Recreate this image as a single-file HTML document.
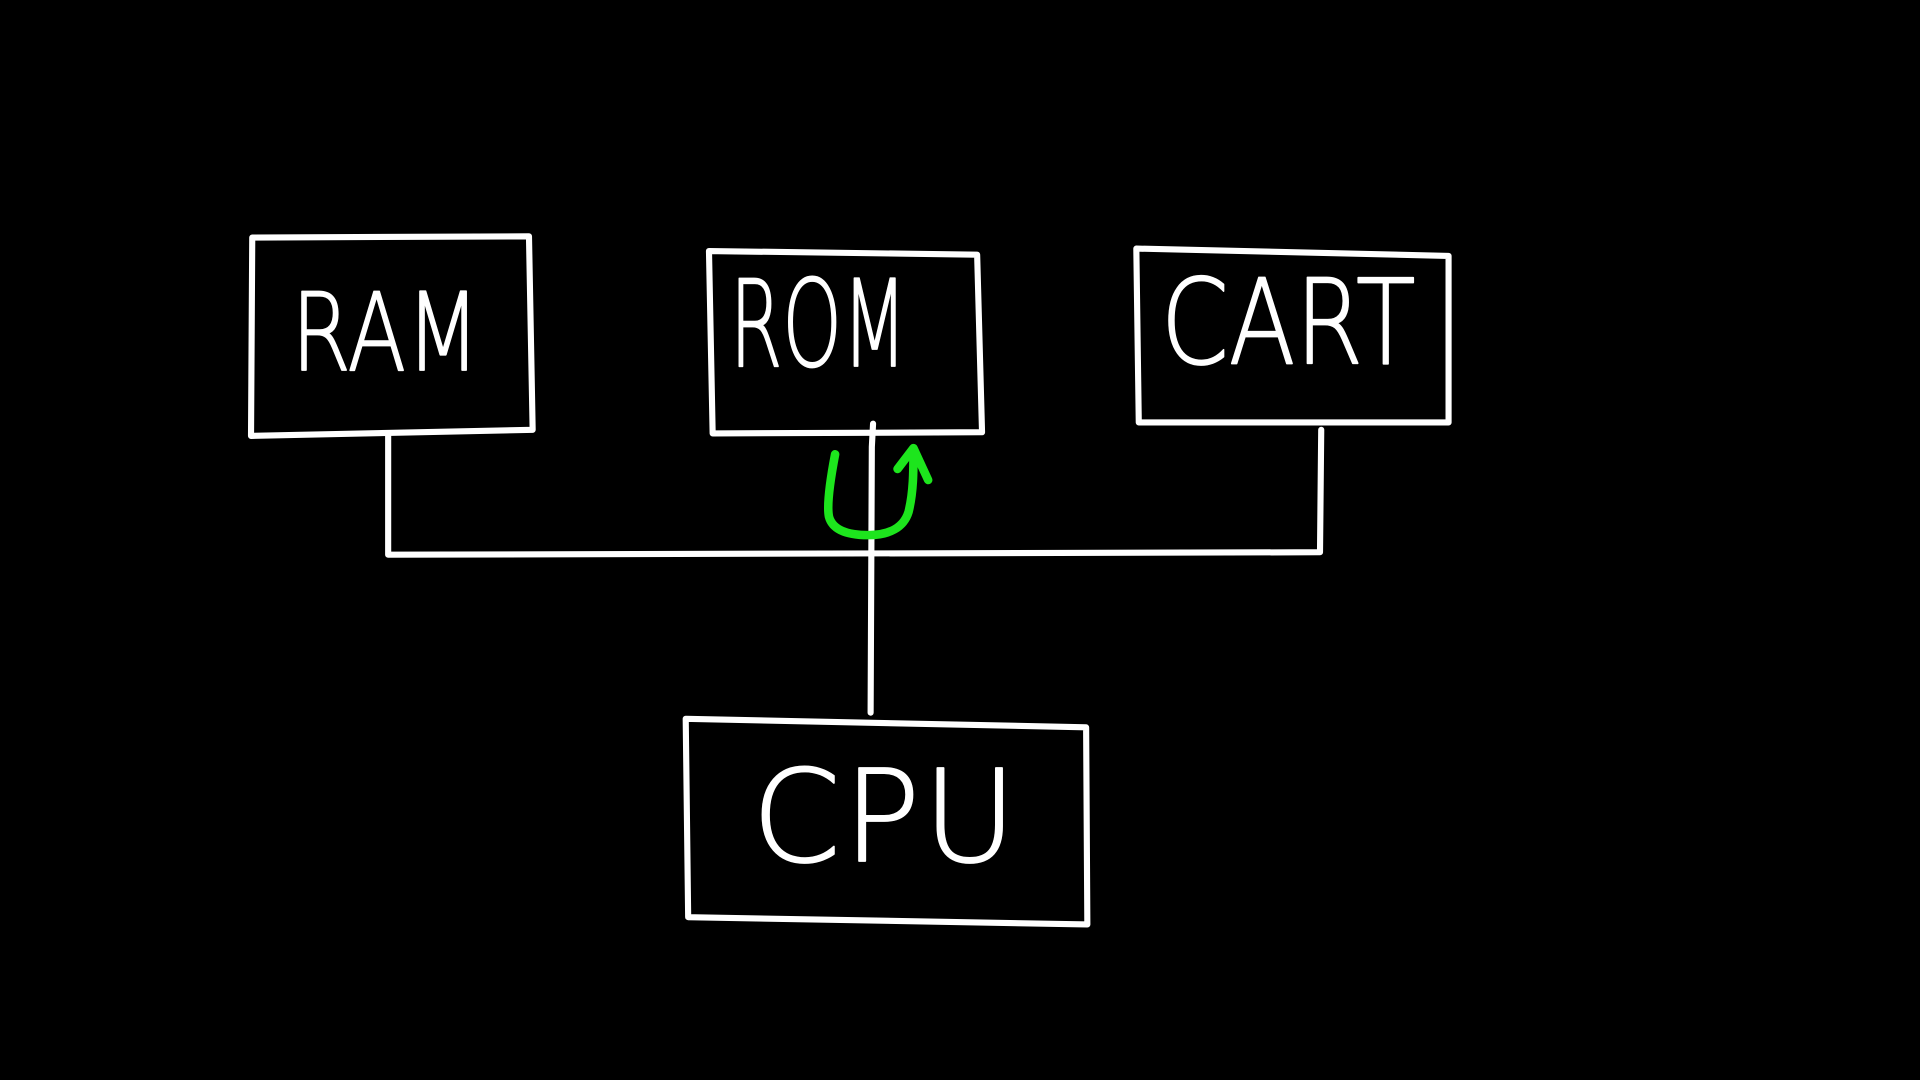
<!DOCTYPE html>
<html>
<head>
<meta charset="utf-8">
<style>
  html, body { margin: 0; padding: 0; background: #000; }
  body { width: 1920px; height: 1080px; overflow: hidden; }
  svg { display: block; }
  text { font-family: "DejaVu Sans", "Liberation Sans", sans-serif; font-weight: 200; fill: #fff; stroke: #fff; stroke-width: 1.4; stroke-linejoin: round; }
</style>
</head>
<body>
<svg width="1920" height="1080" viewBox="0 0 1568 882" xmlns="http://www.w3.org/2000/svg">
  <rect x="0" y="0" width="1568" height="882" fill="#000"/>
  <g fill="none" stroke="#fff" stroke-width="5" stroke-linecap="round" stroke-linejoin="round">
    <!-- RAM box -->
    <path d="M206 194 L432 193 L435 351 L205 356 Z"/>
    <!-- ROM box -->
    <path d="M579 205 L798 208 L802 353 L582 354 Z"/>
    <!-- CART box -->
    <path d="M928 203 L1183 209 L1183 345 L930 345 Z"/>
    <!-- CPU box -->
    <path d="M560 587 L887 594 L888 755 L562 749 Z"/>
    <!-- bus -->
    <path d="M317 356 L317 453 L1078 451 L1079 351"/>
    <path d="M713 346 L712 365 L711 582"/>
  </g>
  <!-- green U-turn arrow -->
  <g fill="none" stroke="#1de51d" stroke-width="7" stroke-linecap="round" stroke-linejoin="round">
    <path d="M682 371 C678 392, 675 412, 677 422 C680 433, 692 437, 709 437 C726 437, 738 431, 742 418 C746 402, 746 385, 746 367"/>
    <path d="M733 383 L746 366 L758 392"/>
  </g>
  <!-- labels -->
  <text x="238" y="302" font-size="88" textLength="154" lengthAdjust="spacingAndGlyphs">RAM</text>
  <text x="596" y="299" font-size="98" textLength="145" lengthAdjust="spacingAndGlyphs">ROM</text>
  <text x="948" y="297" font-size="96" textLength="208" lengthAdjust="spacingAndGlyphs">CART</text>
  <text x="614" y="703" font-size="104" textLength="216" lengthAdjust="spacing">CPU</text>
</svg>
</body>
</html>
